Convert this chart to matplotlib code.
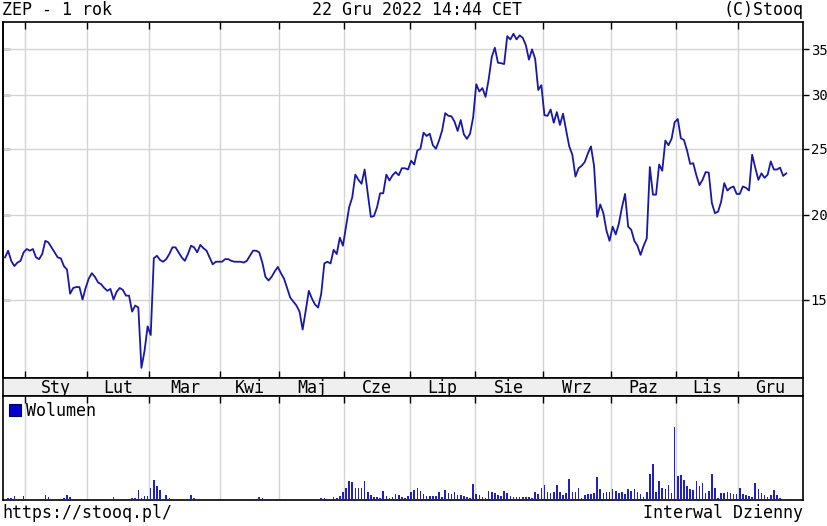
import numpy as np
import matplotlib
matplotlib.use("Agg")
import matplotlib.pyplot as plt
from matplotlib.patches import Patch
from matplotlib.ticker import NullLocator, FixedLocator, FixedFormatter

# ---------------- data ----------------
price = [
    17.3, 17.7, 17.1, 16.8, 17.0, 17.1, 17.6, 17.8, 17.7, 17.8,
    17.3, 17.2, 17.5, 18.3, 18.2, 17.9, 17.6, 17.3, 17.25, 16.8,
    16.6, 15.3, 15.6, 15.65, 15.65, 15.0, 15.6, 16.1, 16.4, 16.2,
    15.9, 15.8, 15.6, 15.45, 15.55, 15.0, 15.4, 15.6, 15.5, 15.2,
    15.2, 14.4, 14.7, 14.6, 11.9, 12.6, 13.7, 13.3, 17.25, 17.4,
    17.15, 17.05, 17.2, 17.5, 17.9, 17.9, 17.6, 17.3, 17.1, 17.5,
    18.0, 17.9, 17.6, 18.05, 17.85, 17.7, 17.3, 16.9, 17.05, 17.05,
    17.05, 17.2, 17.2, 17.1, 17.05, 17.05, 17.05, 17.0, 17.1, 17.4,
    17.7, 17.7, 17.6, 17.0, 16.2, 16.0, 16.2, 16.5, 16.75, 16.4,
    16.1, 15.6, 15.1, 14.9, 14.7, 14.4, 13.55, 14.45, 15.45, 15.05,
    14.75, 14.6, 15.3, 16.95, 17.05, 16.95, 17.75, 17.5, 18.5, 18.0,
    19.2, 20.5, 21.2, 22.9, 22.5, 22.2, 23.3, 21.5, 19.85, 19.9,
    20.5, 21.5, 21.5, 22.9, 22.45, 22.85, 23.1, 22.85, 23.4, 23.4,
    23.3, 24.0, 23.7, 24.85, 25.0, 26.4, 26.1, 26.3, 25.3, 25.0,
    25.7, 26.6, 28.2, 27.95, 27.9, 27.4, 26.55, 27.55, 26.25, 25.85,
    26.3, 27.8, 31.1, 30.35, 30.7, 29.8, 31.6, 34.1, 35.2, 33.45,
    33.4, 33.3, 36.6, 36.2, 36.9, 36.2, 36.7, 36.4, 35.5, 33.8,
    35.0, 33.9, 30.5, 31.0, 28.0, 27.95, 28.55, 27.3, 28.3, 27.1,
    28.15, 26.6, 25.2, 24.5, 22.75, 23.4, 23.6, 23.9, 24.6, 25.2,
    23.6, 19.85, 20.7, 20.1, 18.95, 18.3, 19.2, 18.7, 19.4, 20.5,
    21.45, 19.2, 19.0, 18.3, 18.0, 17.45, 18.0, 18.45, 23.5, 21.4,
    21.4, 23.7, 23.2, 25.7, 25.3, 25.85, 27.35, 27.65, 25.9, 25.75,
    24.85, 23.75, 23.8, 22.85, 22.1, 22.5, 23.1, 23.05, 20.8, 20.1,
    20.2, 20.9, 22.25, 21.7, 21.9, 22.0, 21.45, 21.45, 22.0, 21.9,
    21.7, 24.5, 23.45, 22.5, 23.0, 22.65, 22.9, 23.95, 23.3, 23.3,
    23.45, 22.8, 23.0,
]

volume = [
    1, 2, 2, 4, 1, 0, 4, 1, 1, 1, 1, 0, 0,
    5, 3, 1, 1, 1, 1, 2, 5, 3, 1, 0, 1, 1, 0,
    0, 1, 1, 1, 1, 0, 1, 0, 3, 1, 0, 1, 1, 0,
    2, 2, 10, 2, 4, 4, 12, 20, 14, 10, 1, 5, 2, 1, 1, 1, 1, 1, 1, 5, 2, 1, 1, 1, 1, 1,
    0, 0, 0, 0, 0, 0, 0, 0, 0, 0, 0, 0,
    1, 1, 0, 3, 2, 1, 0, 0, 0, 0, 0, 0,
    1, 0, 1, 0, 1, 0, 0, 0, 1, 0, 1, 2, 2, 0, 1, 3, 2, 4,
    8, 12, 19, 18, 12, 12, 12, 19, 8, 5, 3, 3, 2, 9, 4, 2, 3, 6, 5, 3, 2, 4,
    8, 10, 12, 9, 6, 4, 4, 4, 4, 8, 3, 10, 7, 6, 8, 5, 5, 4, 3, 2,
    16, 6, 5, 3, 2, 9, 8, 7, 5, 4, 9, 7, 4, 3, 3, 3, 3, 3, 3, 2,
    8, 6, 12, 15, 8, 7, 8, 15, 8, 5, 7, 21, 8, 8, 12, 2, 5, 6, 6, 7,
    23, 11, 7, 8, 8, 11, 9, 7, 8, 6, 11, 9, 11, 8, 6, 3, 8, 26, 37, 8,
    19, 12, 11, 15, 7, 74, 24, 25, 20, 14, 11, 10, 19, 14, 17, 7, 9, 26, 12, 2,
    7, 7, 8, 7, 6, 6, 12, 6, 5, 4, 3, 17, 11, 7, 5, 3, 5, 10, 5, 2, 1, 1,
]

# trading-day index where each month begins (boundary between sessions)
month_starts = [6.5, 26.5, 46.5, 69.5, 88.5, 109.5, 130.5, 151.5, 173.5, 195.5, 216.5, 236.5]
month_labels = ["Sty", "Lut", "Mar", "Kwi", "Maj", "Cze", "Lip", "Sie", "Wrz", "Paz", "Lis", "Gru"]
y_ticks = [15, 20, 25, 30, 35]

title_left = "ZEP - 1 rok"
title_mid = "22 Gru 2022 14:44 CET"
title_right = "(C)Stooq"
foot_left = "https://stooq.pl/"
foot_right = "Interwal Dzienny"
legend_label = "Wolumen"

# ---------------- style ----------------
FONT = "DejaVu Sans Mono"
plt.rcParams["font.family"] = [FONT, "DejaVu Sans"]
LINE = "#1818a8"
BAR = "#2020c0"
GRID = "#d4d4d4"
SP_LW = 1.2

W, H = 828, 526
fig = plt.figure(figsize=(W / 100, H / 100), dpi=100)
fig.patch.set_facecolor("white")


def rect(l, t, r, b):
    return [l / W, 1 - b / H, (r - l) / W, (b - t) / H]


XL = (-0.65, 257.4)

ax = fig.add_axes(rect(3, 22, 803, 378))
band = fig.add_axes(rect(3, 378, 803, 396))
axv = fig.add_axes(rect(3, 396, 803, 500))

for a in (ax, band, axv):
    for s in a.spines.values():
        s.set_linewidth(SP_LW)
        s.set_color("black")
    a.set_xlim(*XL)

# ---------------- price panel ----------------
x = np.arange(len(price))
ax.plot(x, price, color=LINE, lw=1.3, zorder=3)
ax.set_yscale("log")
ax.set_ylim(11.5, 38.4)
ax.yaxis.set_major_locator(FixedLocator(y_ticks))
ax.yaxis.set_major_formatter(FixedFormatter([str(v) for v in y_ticks]))
ax.yaxis.set_minor_locator(NullLocator())
ax.yaxis.tick_right()
ax.tick_params(axis="y", which="major", direction="out", length=4, width=1,
               labelsize=10, pad=1.5, right=True, left=False)
ax.set_xticks(month_starts)
ax.tick_params(axis="x", direction="in", length=5, width=1, top=True, bottom=True,
               labelbottom=False)
ax.grid(True, color=GRID, lw=1.0)
ax.set_axisbelow(True)

sec = ax.secondary_yaxis("left")
sec.set_yticks(y_ticks)
sec.yaxis.set_minor_locator(NullLocator())
sec.tick_params(axis="y", direction="in", length=5, width=1, labelleft=False)
sec.spines["left"].set_linewidth(SP_LW)

# ---------------- month band ----------------
band.set_facecolor("#efefef")
band.set_ylim(0, 1)
band.set_xticks([])
band.set_yticks([])
bounds = month_starts + [XL[1]]
for i, lab in enumerate(month_labels):
    mid = (bounds[i] + bounds[i + 1]) / 2
    band.text(mid, 0.45, lab, ha="center", va="center", fontsize=12)

# ---------------- volume panel ----------------
axv.bar(x, volume, width=0.5, color=BAR, zorder=3)
axv.set_ylim(0, max(volume) * 104 / 73)
axv.set_yticks([])
axv.set_xticks(month_starts)
axv.tick_params(axis="x", direction="in", length=5, width=1, top=True, bottom=False,
                labelbottom=False)
axv.grid(True, axis="x", color=GRID, lw=1.0)
axv.set_axisbelow(True)
leg = axv.legend(handles=[Patch(facecolor="#0000d0", edgecolor="#000060", lw=0.8)],
                 labels=[legend_label], loc="upper left", frameon=False,
                 handlelength=0.75, handleheight=0.75, handletextpad=0.25,
                 borderaxespad=0.15, borderpad=0.2, fontsize=12)

# ---------------- texts ----------------
fig.text(2 / W, 1 - 10 / H, title_left, ha="left", va="center", fontsize=12)
fig.text(417 / W, 1 - 10 / H, title_mid, ha="center", va="center", fontsize=12)
fig.text(804 / W, 1 - 10 / H, title_right, ha="right", va="center", fontsize=12)
fig.text(2 / W, 1 - 513 / H, foot_left, ha="left", va="center", fontsize=12)
fig.text(803 / W, 1 - 513 / H, foot_right, ha="right", va="center", fontsize=12)

fig.savefig("out.png", dpi=100, facecolor="white")
